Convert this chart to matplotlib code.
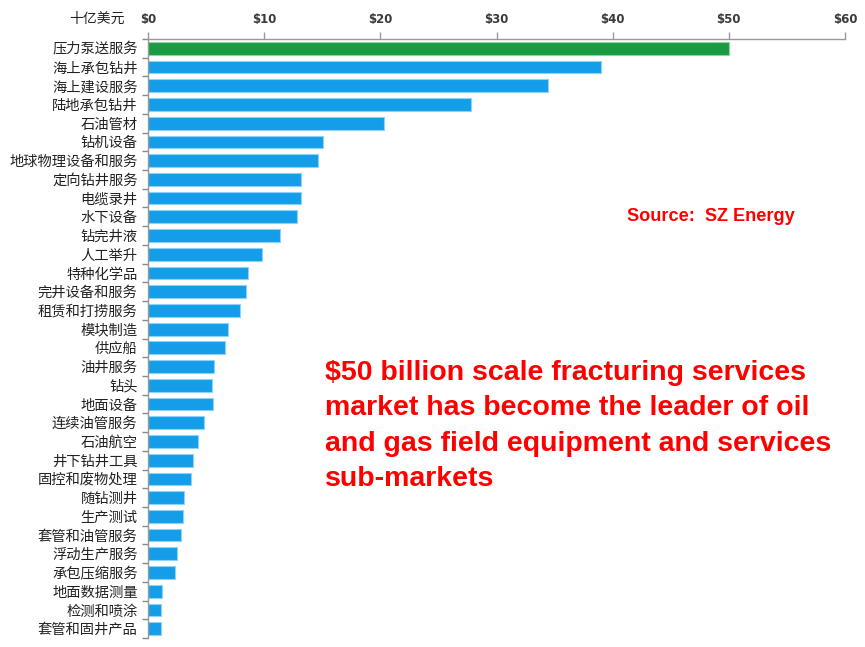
import matplotlib
matplotlib.use("Agg")
import matplotlib.pyplot as plt
import numpy as np

plt.rcParams['font.family'] = ['Noto Sans CJK SC', 'DejaVu Sans']
plt.rcParams['text.parse_math'] = False

categories = ["压力泵送服务", "海上承包钻井", "海上建设服务", "陆地承包钻井", "石油管材",
              "钻机设备", "地球物理设备和服务", "定向钻井服务", "电缆录井", "水下设备",
              "钻完井液", "人工举升", "特种化学品", "完井设备和服务", "租赁和打捞服务",
              "模块制造", "供应船", "油井服务", "钻头", "地面设备", "连续油管服务",
              "石油航空", "井下钻井工具", "固控和废物处理", "随钻测井", "生产测试",
              "套管和油管服务", "浮动生产服务", "承包压缩服务", "地面数据测量",
              "检测和喷涂", "套管和固井产品"]
values = [50.0, 39.0, 34.4, 27.8, 20.3,
          15.1, 14.6, 13.2, 13.2, 12.8,
          11.4, 9.8, 8.6, 8.45, 7.9,
          6.85, 6.6, 5.7, 5.5, 5.6, 4.85,
          4.3, 3.9, 3.7, 3.1, 3.0,
          2.8, 2.5, 2.3, 1.2,
          1.1, 1.1]
xticks = [0, 10, 20, 30, 40, 50, 60]
xticklabels = ["$0", "$10", "$20", "$30", "$40", "$50", "$60"]
unit_label = "十亿美元"
source_text = "Source:  SZ Energy"
note_text = ("$50 billion scale fracturing services\n"
             "market has become the leader of oil\n"
             "and gas field equipment and services\n"
             "sub-markets")

W, H = 865, 647
fig = plt.figure(figsize=(W / 100, H / 100), dpi=100)
ax = fig.add_axes([148 / W, 1 - 638 / H, (845 - 148) / W, (638 - 39) / H])

n = len(categories)
y = np.arange(n)
colors = ['#1A9A42'] + ['#149EE9'] * (n - 1)
edges = ['#8FD3A0'] + ['#8CD3F7'] * (n - 1)
ax.barh(y, values, height=0.68, color=colors, edgecolor=edges, linewidth=0.8)

ax.set_xlim(0, 60)
ax.set_ylim(n - 0.5, -0.5)

ax.xaxis.tick_top()
ax.set_xticks(xticks)
ax.set_xticklabels(xticklabels, fontfamily='DejaVu Sans', fontweight='bold',
                   fontsize=8.5, color='#3a3a3a')
ax.tick_params(axis='x', which='major', direction='out', length=5, width=1,
               color='#999999', pad=4)

ax.set_yticks(y)
ax.set_yticklabels(categories, fontsize=10.3, color='#222222')
ax.set_yticks(np.arange(n + 1) - 0.5, minor=True)
ax.tick_params(axis='y', which='major', length=0, pad=7.5)
ax.tick_params(axis='y', which='minor', direction='out', length=4, width=1,
               color='#888888')

for s in ['right', 'bottom']:
    ax.spines[s].set_visible(False)
for s in ['top', 'left']:
    ax.spines[s].set_color('#999999')
    ax.spines[s].set_linewidth(1)

fig.text(97 / W, 1 - 19 / H, unit_label, ha='center', va='center',
         fontsize=10, color='#222222')

fig.text(627 / W, 1 - 221 / H, source_text, ha='left', va='baseline',
         fontsize=13.1, fontweight='bold', color='#FF0000',
         fontfamily='Liberation Sans')

fig.text(325 / W, 1 - 360 / H, note_text, ha='left', va='top',
         fontsize=20.5, fontweight='bold', color='#FF0000',
         fontfamily='Liberation Sans', linespacing=1.47)

fig.savefig('out.png', dpi=100)
